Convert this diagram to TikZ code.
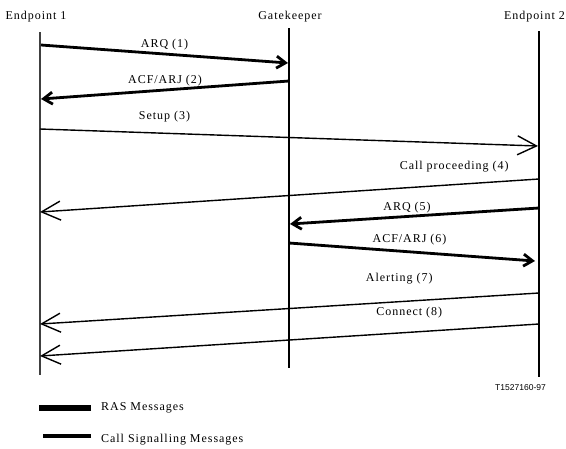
\documentclass[tikz,border=0pt]{standalone}
\usepackage{fontspec}
\setmainfont{Liberation Serif}[LetterSpace=8]
\newfontfamily\codefont{Liberation Sans}
\usepackage{tikz}
\usetikzlibrary{arrows.meta, calc}

\begin{document}
\begin{tikzpicture}[
  x=1pt, y=-1pt,
  font=\fontsize{12}{14}\selectfont,
  actor/.style={inner sep=0pt, anchor=base},
  life/.style={line width=2.6pt},
  lifethin/.style={line width=1.3pt, black!75},
  ras/.style={line width=2.8pt, -{Straight Barb[length=9pt,width=12pt]}},
  sig/.style={line width=1.4pt, -{Straight Barb[length=19pt,width=19pt]}},
  lbl/.style={inner sep=0pt}
]
\useasboundingbox (0,0) rectangle (566,448);

% actors
\node[actor] (e1) at (36,19) {Endpoint 1};
\node[actor] (gk) at (290,19) {Gatekeeper};
\node[actor, anchor=base east] (e2) at (565,19) {Endpoint 2};

% lifelines
\coordinate (e1top) at (40,32);  \coordinate (e1bot) at (40,375);
\coordinate (gktop) at (289,28); \coordinate (gkbot) at (289,368);
\coordinate (e2top) at (539,31); \coordinate (e2bot) at (539,377);
\draw[lifethin] (e1top) -- (e1bot);
\draw[life] (gktop) -- (gkbot);
\draw[life] (e2top) -- (e2bot);

% message end points
\coordinate (m1a) at (41,45);   \coordinate (m1b) at (288,63);
\coordinate (m2a) at (289,81);  \coordinate (m2b) at (41,99);
\coordinate (m3a) at (40,129);  \coordinate (m3b) at (538,146);
\coordinate (m4a) at (539,179); \coordinate (m4b) at (40,212);
\coordinate (m5a) at (539,208); \coordinate (m5b) at (290,224);
\coordinate (m6a) at (289,243); \coordinate (m6b) at (535,261);
\coordinate (m7a) at (539,293); \coordinate (m7b) at (40,324);
\coordinate (m8a) at (539,324); \coordinate (m8b) at (40,356);

% messages
\draw[ras] (m1a) -- node[lbl, pos=0.5, yshift=9pt] {ARQ (1)} (m1b);
\draw[ras] (m2a) -- node[lbl, pos=0.5, yshift=9pt] {ACF/ARJ (2)} (m2b);
\draw[sig] (m3a) -- node[lbl, pos=0.25, yshift=17pt] {Setup (3)} (m3b);
\draw[sig] (m4a) -- node[lbl, pos=0.17, yshift=18pt] {Call proceeding (4)} (m4b);
\draw[ras] (m5a) -- node[lbl, pos=0.53, yshift=9pt] {ARQ (5)} (m5b);
\draw[ras] (m6a) -- node[lbl, pos=0.49, yshift=12pt] {ACF/ARJ (6)} (m6b);
\draw[sig] (m7a) -- node[lbl, pos=0.28, yshift=23pt] {Alerting (7)} (m7b);
\draw[sig] (m8a) -- node[lbl, pos=0.26, yshift=20pt] {Connect (8)} (m8b);

\node[lbl, anchor=east, font=\codefont\fontsize{8.5}{10}\selectfont] (fig) at (546,388) {T1527160-97};

% legend
\node[lbl, anchor=west] (rasleg) at (101,408) {RAS Messages};
\node[lbl, anchor=west] (sigleg) at (101,440) {Call Signalling Messages};
\draw[line width=6pt] ([xshift=-10pt]rasleg.west) -- ++(-52,0);
\draw[line width=3.5pt] ([xshift=-10pt,yshift=4pt]sigleg.west) -- ++(-48,0);
\end{tikzpicture}
\end{document}
